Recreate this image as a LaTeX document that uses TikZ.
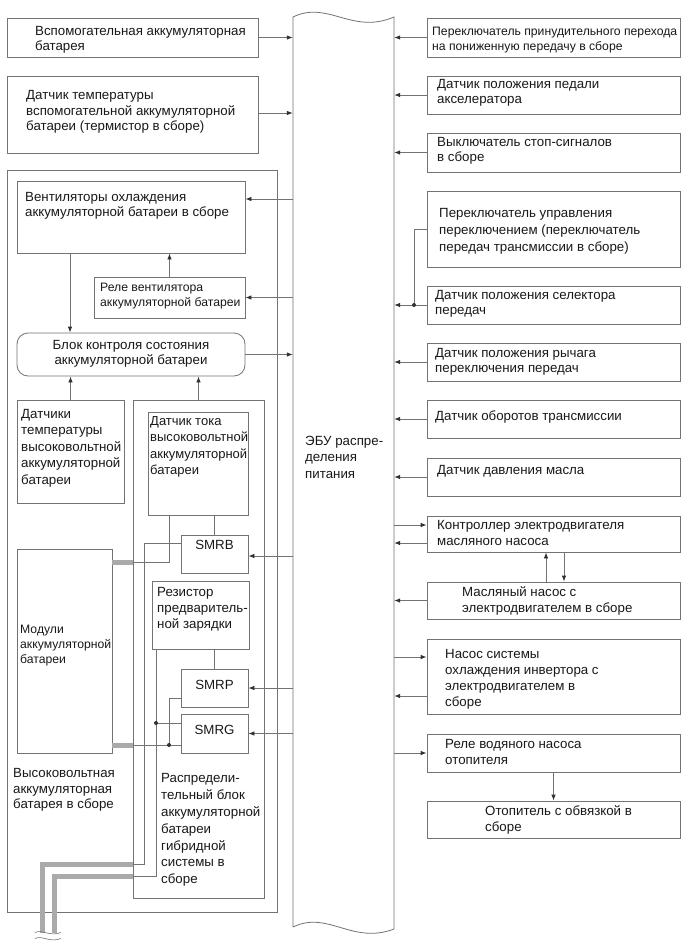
\documentclass[tikz,border=0pt]{standalone}
\usepackage{fontspec}
\setmainfont{Liberation Sans}
\usetikzlibrary{arrows.meta,fit}
\definecolor{lc}{RGB}{115,115,115}
\definecolor{ac}{RGB}{50,50,50}
\definecolor{tc}{RGB}{25,25,25}
\definecolor{cc}{RGB}{170,170,170}
\tikzset{
  bx/.style={draw=lc, line width=0.8pt, inner sep=0pt, rectangle},
  rbx/.style={bx, rounded corners=11pt},
  txt/.style={anchor=west, align=left, inner sep=0pt, text=tc, font=\fontsize{13.3}{15.5}\selectfont},
  stxt/.style={txt, font=\fontsize{12.2}{15}\selectfont},
  ln/.style={draw=lc, line width=0.8pt},
  arr/.style={draw=lc, line width=0.8pt, -{Latex[length=6pt,width=4.5pt,color=ac]}},
  cable/.style={draw=cc, line width=5pt},
  dotn/.style={circle, fill=ac, inner sep=0pt, minimum size=4pt},
}
\begin{document}
\begin{tikzpicture}[x=1pt,y=-1pt]
\useasboundingbox (0,0) rectangle (690,951);
\fill[white] (0,0) rectangle (690,951);

% ECU
\node[inner sep=0pt, fit={(293,17)(394,928)}] (ECU) {};
\draw[ln] (293,927) -- (293,17) .. controls (328,0) and (352,35) .. (394,17) -- (394,929) .. controls (352,945) and (328,910) .. (293,927);
\node[txt, font=\fontsize{13.3}{16.5}\selectfont] (ECUt) at (305,457) {ЭБУ распре-\\деления\\питания};

% left top boxes
\node[bx, fit={(7,18)(258,57)}] (L1) {};
\node[txt] (L1t) at (35,40) {Вспомогательная аккумуляторная\\батарея};
\node[bx, fit={(7,76)(258,153)}] (L2) {};
\node[txt] (L2t) at (26,112) {Датчик температуры\\вспомогательной аккумуляторной\\батареи (термистор в сборе)};

% HV battery assembly
\node[bx, fit={(7,170)(277,912)}] (HV) {};
\node[txt] (HVt) at (13,790) {Высоковольтная\\аккумуляторная\\батарея в сборе};

\node[bx, fit={(17,181)(245,253)}] (FAN) {};
\node[txt] (FANt) at (25,206) {Вентиляторы охлаждения\\аккумуляторной батареи в сборе};
\node[bx, fit={(94,277)(245,318)}] (REL) {};
\node[stxt] (RELt) at (100,296) {Реле вентилятора\\аккумуляторной батареи};
\node[rbx, fit={(17,333)(245,376)}] (BMS) {};
\node[txt, anchor=center, align=center] (BMSt) at (131,354) {Блок контроля состояния\\аккумуляторной батареи};
\node[bx, fit={(17,400)(124,503)}] (TS) {};
\node[txt, font=\fontsize{13.3}{16.5}\selectfont] (TSt) at (21,448) {Датчики\\температуры\\высоковольтной\\аккумуляторной\\батареи};
\node[bx, fit={(17,549)(112,753)}] (MOD) {};
\node[stxt] (MODt) at (20,646) {Модули\\аккумуляторной\\батареи};

% distribution block
\node[bx, fit={(133,400)(264,898)}] (DB) {};
\node[txt, font=\fontsize{13.3}{16.8}\selectfont] (DBt) at (161,830) {Распредели-\\тельный блок\\аккумуляторной\\батареи\\гибридной\\системы в\\сборе};
\node[bx, fit={(148,412)(248,515)}] (CS) {};
\node[txt, font=\fontsize{13}{16.3}\selectfont] (CSt) at (150,447) {Датчик тока\\высоковольтной\\аккумуляторной\\батареи};
\node[bx, fit={(181,535)(248,573)}] (SMRB) {};
\node[txt, anchor=center] (SMRBt) at (214.5,545) {SMRB};
\node[bx, fit={(152,581)(249,649)}] (RES) {};
\node[txt, font=\fontsize{13.3}{16}\selectfont] (RESt) at (157,609) {Резистор\\предваритель-\\ной зарядки};
\node[bx, fit={(181,669)(248,707)}] (SMRP) {};
\node[txt, anchor=center] (SMRPt) at (214.5,685) {SMRP};
\node[bx, fit={(181,714)(248,753)}] (SMRG) {};
\node[txt, anchor=center] (SMRGt) at (214.5,730) {SMRG};

% right boxes
\node[bx, fit={(427,18)(680,57)}] (R1) {};
\node[stxt] (R1t) at (432,40) {Переключатель принудительного перехода\\на пониженную передачу в сборе};
\node[bx, fit={(427,76)(680,114)}] (R2) {};
\node[txt] (R2t) at (437,93) {Датчик положения педали\\акселератора};
\node[bx, fit={(427,133)(680,172)}] (R3) {};
\node[txt] (R3t) at (437,151) {Выключатель стоп-сигналов\\в сборе};
\node[bx, fit={(427,191)(680,267)}] (R4) {};
\node[txt, font=\fontsize{13.3}{16.8}\selectfont] (R4t) at (439,231) {Переключатель управления\\переключением (переключатель\\передач трансмиссии в сборе)};
\node[bx, fit={(427,286)(680,324)}] (R5) {};
\node[txt] (R5t) at (435,304) {Датчик положения селектора\\передач};
\node[bx, fit={(427,343)(680,381)}] (R6) {};
\node[txt] (R6t) at (435,362) {Датчик положения рычага\\переключения передач};
\node[bx, fit={(427,400)(680,438)}] (R7) {};
\node[txt] (R7t) at (435,417) {Датчик оборотов трансмиссии};
\node[bx, fit={(427,458)(680,496)}] (R8) {};
\node[txt] (R8t) at (437,471) {Датчик давления масла};
\node[bx, fit={(427,516)(680,552)}] (R9) {};
\node[txt, font=\fontsize{13.3}{16.5}\selectfont] (R9t) at (437,533) {Контроллер электродвигателя\\масляного насоса};
\node[bx, fit={(427,582)(680,619)}] (R10) {};
\node[txt] (R10t) at (462,601) {Масляный насос с\\электродвигателем в сборе};
\node[bx, fit={(427,639)(680,714)}] (R11) {};
\node[txt, font=\fontsize{13.3}{16}\selectfont] (R11t) at (445,679) {Насос системы\\охлаждения инвертора с\\электродвигателем в\\сборе};
\node[bx, fit={(427,734)(680,772)}] (R12) {};
\node[txt, font=\fontsize{13.3}{16}\selectfont] (R12t) at (445,752) {Реле водяного насоса\\отопителя};
\node[bx, fit={(427,801)(680,838)}] (R13) {};
\node[txt, font=\fontsize{13.3}{16}\selectfont] (R13t) at (485,820) {Отопитель с обвязкой в\\сборе};

% left <-> ECU
\draw[arr] (L1.east) -- (L1.east -| ECU.west);
\draw[arr] ([yshift=1.5pt]L2.east) -- ([yshift=1.5pt]L2.east -| ECU.west);
\draw[arr] ([yshift=18pt]FAN.east -| ECU.west) -- ([yshift=18pt]FAN.east);
\draw[arr] (REL.east -| ECU.west) -- (REL.east);
\draw[arr] (BMS.east) -- (BMS.east -| ECU.west);
\draw[arr] ([yshift=-2pt]SMRB.east -| ECU.west) -- ([yshift=-2pt]SMRB.east);
\draw[arr] (SMRP.east -| ECU.west) -- (SMRP.east);
\draw[arr] (SMRG.east -| ECU.west) -- (SMRG.east);

% left internal arrows
\draw[arr] ([xshift=-61pt]FAN.south) -- ([xshift=-61pt]FAN.south |- BMS.north);
\draw[arr] (REL.north) -- (REL.north |- FAN.south);
\draw[arr] (TS.north) -- (TS.north |- BMS.south);
\draw[arr] (DB.north) -- (DB.north |- BMS.south);

% distribution block wiring
\coordinate (ja) at (169,562);
\coordinate (jb) at (144,864);
\coordinate (jc) at (156,876);
\coordinate (jd) at (156,723);
\coordinate (je) at (169,745);
\draw[ln] (SMRB.north) -- (SMRB.north |- CS.south);
\draw[ln] (SMRP.north) -- (SMRP.north |- RES.south);
\draw[ln] (CS.south -| ja) -- (ja) -- (ja -| DB.west);
\draw[ln] ([yshift=11pt]SMRB.west) -- ([yshift=11pt]SMRB.west -| jb) -- (jb) -- (jb -| DB.west);
\draw[ln] (RES.south -| jc) -- (jc) -- (jc -| DB.west);
\draw[ln] (jd) -- (jd -| SMRG.west);
\draw[ln] ([yshift=-10pt]SMRP.west) -- ([yshift=-10pt]SMRP.west -| je) -- (je);
\draw[ln] (je -| DB.west) -- (je -| SMRG.west);
\node[dotn] (djd) at (jd) {};
\node[dotn] (dje) at (je) {};

% high-voltage stubs and cables
\draw[cable] (ja -| MOD.east) -- (ja -| DB.west);
\draw[cable] (je -| MOD.east) -- (je -| DB.west);
\coordinate (c1) at (42,933);
\coordinate (c2) at (54,933);
\draw[cable] (jb -| DB.west) -| (c1);
\draw[cable] (jc -| DB.west) -| (c2);
\draw[ln, line width=0.6pt] (35,932.5) .. controls (42,929) and (50,937) .. (61,932.5);
\draw[ln, line width=0.6pt] (35,938.5) .. controls (42,935) and (50,943) .. (61,938.5);

% right -> ECU
\draw[arr] (R1.west) -- (R1.west -| ECU.east);
\draw[arr] (R2.west) -- (R2.west -| ECU.east);
\draw[arr] (R3.west) -- (R3.west -| ECU.east);
\coordinate (js) at (414,305);
\draw[ln] (R4.west) -| (js);
\draw[arr] (R5.west) -- (R5.west -| ECU.east);
\node[dotn] (djs) at (js) {};
\draw[arr] (R6.west) -- (R6.west -| ECU.east);
\draw[arr] (R7.west) -- (R7.west -| ECU.east);
\draw[arr] (R8.west) -- (R8.west -| ECU.east);
\draw[arr] ([yshift=9pt]R9.west -| ECU.east) -- ([yshift=9pt]R9.west);
\draw[arr] ([yshift=-9pt]R9.west) -- ([yshift=-9pt]R9.west -| ECU.east);
\draw[arr] (R10.west) -- (R10.west -| ECU.east);
\draw[arr] ([yshift=19.5pt]R11.west -| ECU.east) -- ([yshift=19.5pt]R11.west);
\draw[arr] ([yshift=-19.5pt]R11.west) -- ([yshift=-19.5pt]R11.west -| ECU.east);
\draw[arr] (R12.west -| ECU.east) -- (R12.west);

% right internal
\draw[arr] ([xshift=-7.5pt]R10.north) -- ([xshift=-7.5pt]R9.south);
\draw[arr] ([xshift=10.5pt]R9.south) -- ([xshift=10.5pt]R10.north);
\draw[arr] (R12.south) -- (R13.north);
\end{tikzpicture}
\end{document}
